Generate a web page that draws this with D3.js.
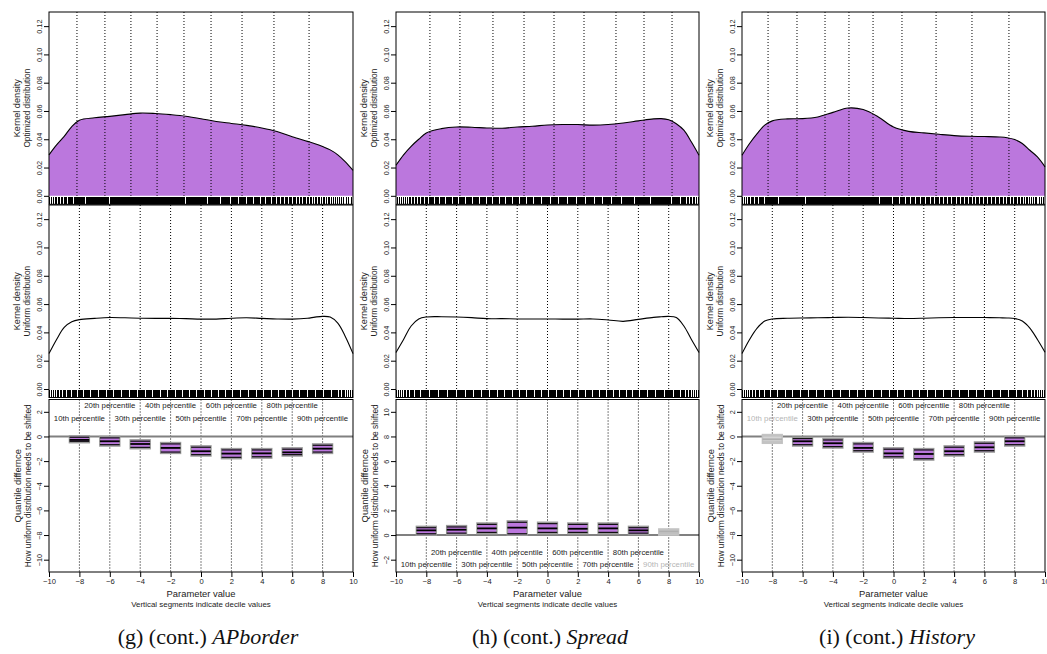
<!DOCTYPE html>
<html><head><meta charset="utf-8">
<script src="https://cdn.jsdelivr.net/npm/d3@7"></script>
<style>
body{margin:0;background:#fff}
svg text{font-family:"Liberation Sans",Arial,Helvetica,sans-serif}
</style>
</head><body>
<svg id="c" width="1047" height="654"></svg>
<script>
// ---------- DATA ----------
const densX = [-10,-9.5,-9,-8.5,-8,-7,-6,-5,-4,-3,-2,-1,0,1,2,3,4,5,6,7,7.5,8,8.5,9,9.5,10];
const gOpt = [0.029,0.036,0.042,0.049,0.0535,0.0552,0.0562,0.0574,0.0585,0.0582,0.0574,0.0563,0.0545,0.0526,0.0512,0.0498,0.0480,0.0455,0.0418,0.0385,0.0368,0.0348,0.0325,0.0290,0.024,0.018];
const gUni = [0.025,0.035,0.0435,0.0475,0.049,0.0499,0.0505,0.0503,0.0500,0.0499,0.0499,0.0497,0.0494,0.0494,0.0500,0.0503,0.0499,0.0495,0.0494,0.0500,0.0508,0.0513,0.0508,0.0465,0.037,0.025];
const hOpt = [0.0216,0.029,0.035,0.040,0.0445,0.0475,0.0487,0.0485,0.0480,0.0478,0.0487,0.0492,0.0501,0.0504,0.0504,0.0500,0.0504,0.0515,0.0530,0.0544,0.0546,0.0538,0.051,0.0464,0.038,0.0287];
const hUni = [0.0258,0.035,0.0445,0.0495,0.0509,0.0511,0.0509,0.0504,0.0497,0.0497,0.0495,0.0495,0.0495,0.0494,0.0494,0.0495,0.0488,0.0478,0.0492,0.0506,0.0510,0.0513,0.0505,0.0445,0.035,0.0258];
const iOpt = [0.0287,0.037,0.044,0.050,0.053,0.0544,0.0546,0.0558,0.0590,0.0621,0.0610,0.0558,0.0487,0.0456,0.0445,0.0435,0.0426,0.0421,0.0419,0.0416,0.0411,0.0398,0.037,0.0322,0.0275,0.0205];
const iUni = [0.025,0.035,0.043,0.048,0.0495,0.0500,0.0502,0.0503,0.0505,0.0507,0.0505,0.0502,0.0500,0.0498,0.0500,0.0503,0.0505,0.0505,0.0505,0.0503,0.0502,0.0498,0.048,0.043,0.035,0.026];

const gOptDeciles = [-8.16,-6.32,-4.61,-2.89,-1.12,0.66,2.70,4.80,7.11];
const hOptDeciles = [-7.76,-5.78,-3.60,-1.55,0.43,2.41,4.52,6.37,8.22];
const iOptDeciles = [-8.28,-6.37,-4.52,-2.94,-1.35,0.56,2.81,5.18,7.62];
const uniDeciles = [-8,-6,-4,-2,0,2,4,6,8];

const gBoxHi  = [0.04,-0.01,-0.28,-0.50,-0.77,-0.99,-0.99,-0.93,-0.61];
const gBoxMed = [-0.28,-0.39,-0.61,-0.93,-1.20,-1.39,-1.37,-1.29,-0.99];
const gBoxLo  = [-0.50,-0.77,-0.99,-1.37,-1.58,-1.80,-1.75,-1.58,-1.37];
const gSig    = [1,1,1,1,1,1,1,1,1];
const hBoxHi  = [0.70,0.76,0.97,1.14,1.03,0.97,0.97,0.70,0.49];
const hBoxMed = [0.38,0.43,0.54,0.60,0.54,0.51,0.54,0.38,0.27];
const hBoxLo  = [0.00,0.05,0.11,0.00,0.11,0.11,0.11,0.05,0.00];
const hSig    = [1,1,1,1,1,1,1,1,0];
const iBoxHi  = [0.15,-0.07,-0.18,-0.50,-0.93,-0.99,-0.77,-0.45,-0.01];
const iBoxMed = [-0.23,-0.39,-0.55,-0.93,-1.37,-1.42,-1.20,-0.88,-0.39];
const iBoxLo  = [-0.55,-0.77,-0.93,-1.26,-1.75,-1.91,-1.58,-1.26,-0.77];
const iSig    = [0,1,1,1,1,1,1,1,1];

const percentileLabels = ["10th percentile","20th percentile","30th percentile","40th percentile","50th percentile","60th percentile","70th percentile","80th percentile","90th percentile"];
const xTicks = [-10,-8,-6,-4,-2,0,2,4,6,8,10];
const densTicks = [0,0.02,0.04,0.06,0.08,0.10,0.12];
const negQTicks = [-10,-8,-6,-4,-2,0,2];
const posQTicks = [-2,0,2,4,6,8,10];
const captionPrefix = ["(g) (cont.) ","(h) (cont.) ","(i) (cont.) "];
const captionNames = ["APborder","Spread","History"];

// ---------- LAYOUT / STYLE ----------
const PURPLE = "#BB77DD";
const svg = d3.select("#c");
const panels = [
  {left:49, right:353, opt:gOpt, uni:gUni, od:gOptDeciles, lo:gBoxLo, med:gBoxMed, hi:gBoxHi, sig:gSig, qDom:[-11,3], qTicks:negQTicks, labTop:true, cap:208},
  {left:396, right:699, opt:hOpt, uni:hUni, od:hOptDeciles, lo:hBoxLo, med:hBoxMed, hi:hBoxHi, sig:hSig, qDom:[-3,11], qTicks:posQTicks, labTop:false, cap:550},
  {left:742, right:1045, opt:iOpt, uni:iUni, od:iOptDeciles, lo:iBoxLo, med:iBoxMed, hi:iBoxHi, sig:iSig, qDom:[-11,3], qTicks:negQTicks, labTop:true, cap:897}
];
const TOP = [12, 204.3], MID = [205, 397.5], BOT = [399.5, 572];
const densDom = [-0.006, 0.13];
const curve = d3.curveCatmullRom.alpha(0.5);

// rug positions derived from the density arrays (inverse CDF of the read density)
function rugFrom(xs, ys, n){
  const cum=[0];
  for(let i=1;i<xs.length;i++) cum.push(cum[i-1]+(ys[i-1]+ys[i])/2*(xs[i]-xs[i-1]));
  const tot=cum[cum.length-1], out=[];
  let j=1;
  for(let k=0;k<n;k++){
    const t=(k+0.5)/n*tot;
    while(j<cum.length-1 && cum[j]<t) j++;
    const f=(t-cum[j-1])/(cum[j]-cum[j-1]);
    out.push(xs[j-1]+f*(xs[j]-xs[j-1]));
  }
  return out;
}

function yAxisStyle(g){
  g.select(".domain").remove();
  g.selectAll(".tick line").attr("stroke","#000");
  g.selectAll(".tick text").attr("transform","rotate(-90)").attr("x",0).attr("y",-9.3)
    .attr("dy","0.35em").attr("text-anchor","middle").attr("font-size","7.3px").attr("fill","#222");
}

function rotTitle(x, y, txt, size){
  svg.append("text").attr("transform",`translate(${x},${y}) rotate(-90)`).attr("text-anchor","middle")
    .attr("dy","0.35em").attr("font-size",size).attr("fill","#222").text(txt);
}

panels.forEach((p, pi) => {
  const x = d3.scaleLinear().domain([-10,10]).range([p.left,p.right]);
  // ---- density panels ----
  [[TOP,p.opt,p.od,true,"Optimized distribution"],[MID,p.uni,uniDeciles,false,"Uniform distribution"]].forEach(([ext,vals,dec,filled,lab]) => {
    const y = d3.scaleLinear().domain(densDom).range([ext[1],ext[0]]);
    const pts = densX.map((d,i)=>[d,vals[i]]);
    if(filled){
      svg.append("path").datum(pts).attr("fill",PURPLE).attr("stroke","none")
        .attr("d", d3.area().x(d=>x(d[0])).y0(y(0)).y1(d=>y(d[1])).curve(curve));
    }
    svg.append("path").datum(pts).attr("fill","none").attr("stroke","#000").attr("stroke-width",1.1)
      .attr("d", d3.line().x(d=>x(d[0])).y(d=>y(d[1])).curve(curve));
    svg.append("g").selectAll("line").data(dec).join("line")
      .attr("x1",d=>x(d)).attr("x2",d=>x(d)).attr("y1",ext[0]).attr("y2",y(0))
      .attr("stroke","#000").attr("stroke-width",1).attr("stroke-dasharray","1,2");
    // rug
    const rug = rugFrom(densX, vals, 255);
    svg.append("g").attr("shape-rendering","crispEdges").selectAll("line").data(rug).join("line")
      .attr("x1",d=>x(d)).attr("x2",d=>x(d)).attr("y1",ext[1]).attr("y2",ext[1]-7.5)
      .attr("stroke","#000").attr("stroke-width",1);
    const ax = svg.append("g").attr("transform",`translate(${p.left},0)`)
      .call(d3.axisLeft(y).tickValues(densTicks).tickSize(5).tickSizeOuter(0).tickFormat(d3.format(".2f")));
    yAxisStyle(ax);
    svg.append("rect").attr("x",p.left).attr("y",ext[0]).attr("width",p.right-p.left).attr("height",ext[1]-ext[0])
      .attr("fill","none").attr("stroke","#000").attr("stroke-width",1);
    const cy=(ext[0]+ext[1])/2;
    rotTitle(p.left-32, cy, "Kernel density", "9.2px");
    rotTitle(p.left-21.5, cy, lab, "8.2px");
  });

  // ---- quantile difference panel ----
  const y = d3.scaleLinear().domain(p.qDom).range([BOT[1],BOT[0]]);
  svg.append("g").selectAll("line").data(uniDeciles).join("line")
    .attr("x1",d=>x(d)).attr("x2",d=>x(d)).attr("y1",BOT[0]).attr("y2",BOT[1])
    .attr("stroke","#000").attr("stroke-width",1).attr("stroke-dasharray","1,2");
  svg.append("line").attr("x1",p.left).attr("x2",p.right).attr("y1",y(0)).attr("y2",y(0))
    .attr("stroke","#808080").attr("stroke-width",2);
  percentileLabels.forEach((t,i)=>{
    const upper = i%2===1;
    const yy = p.labTop ? (upper ? BOT[0]+8.5 : BOT[0]+21.5) : (upper ? BOT[1]-17 : BOT[1]-5);
    svg.append("text").attr("x",x(uniDeciles[i])).attr("y",yy).attr("text-anchor","middle")
      .attr("font-size","7.8px").attr("fill",p.sig[i]?"#222":"#b5b5b5").text(t);
  });
  const hw = 0.65;
  uniDeciles.forEach((c,i)=>{
    const s = p.sig[i];
    const top = y(p.hi[i]), bot = y(p.lo[i]);
    svg.append("rect").attr("x",x(c-hw)).attr("y",top).attr("width",x(c+hw)-x(c-hw)).attr("height",bot-top)
      .attr("fill",s?PURPLE:"#d4d4d4").attr("stroke",s?"#9a9a9a":"#c4c4c4").attr("stroke-width",1.6);
    [top+1.3, bot-1.3].forEach(yy=>{
      svg.append("line").attr("x1",x(c-hw)).attr("x2",x(c+hw)).attr("y1",yy).attr("y2",yy)
        .attr("stroke",s?"#111":"#bdbdbd").attr("stroke-width",1.2);
    });
    svg.append("line").attr("x1",x(c-hw)).attr("x2",x(c+hw)).attr("y1",y(p.med[i])).attr("y2",y(p.med[i]))
      .attr("stroke",s?"#000":"#b0b0b0").attr("stroke-width",1.8);
  });
  const ay = svg.append("g").attr("transform",`translate(${p.left},0)`)
    .call(d3.axisLeft(y).tickValues(p.qTicks).tickSize(5).tickSizeOuter(0).tickFormat(d3.format("d")));
  yAxisStyle(ay);
  const axb = svg.append("g").attr("transform",`translate(0,${BOT[1]})`)
    .call(d3.axisBottom(x).tickValues(xTicks).tickSize(5).tickSizeOuter(0).tickFormat(d3.format("d")));
  axb.select(".domain").remove();
  axb.selectAll(".tick line").attr("stroke","#000");
  axb.selectAll(".tick text").attr("font-size","7.6px").attr("fill","#222").attr("y",7);
  svg.append("rect").attr("x",p.left).attr("y",BOT[0]).attr("width",p.right-p.left).attr("height",BOT[1]-BOT[0])
    .attr("fill","none").attr("stroke","#000").attr("stroke-width",1);
  const bcy=(BOT[0]+BOT[1])/2;
  rotTitle(p.left-31, bcy, "Quantile differnce", "9.4px");
  rotTitle(p.left-21, bcy, "How uniform distribution needs to be shifted", "8.4px");
  const cx=(p.left+p.right)/2;
  svg.append("text").attr("x",cx).attr("y",596.5).attr("text-anchor","middle").attr("font-size","9.4px").attr("fill","#222").text("Parameter value");
  svg.append("text").attr("x",cx).attr("y",607).attr("text-anchor","middle").attr("font-size","7.9px").attr("fill","#222").text("Vertical segments indicate decile values");
  const cap = svg.append("text").attr("x",p.cap).attr("y",644).attr("text-anchor","middle")
    .attr("font-size","22px").attr("fill","#111").style("font-family","'Liberation Serif','DejaVu Serif',serif");
  cap.append("tspan").text(captionPrefix[pi]);
  cap.append("tspan").attr("font-style","italic").text(captionNames[pi]);
});
</script>
</body></html>
